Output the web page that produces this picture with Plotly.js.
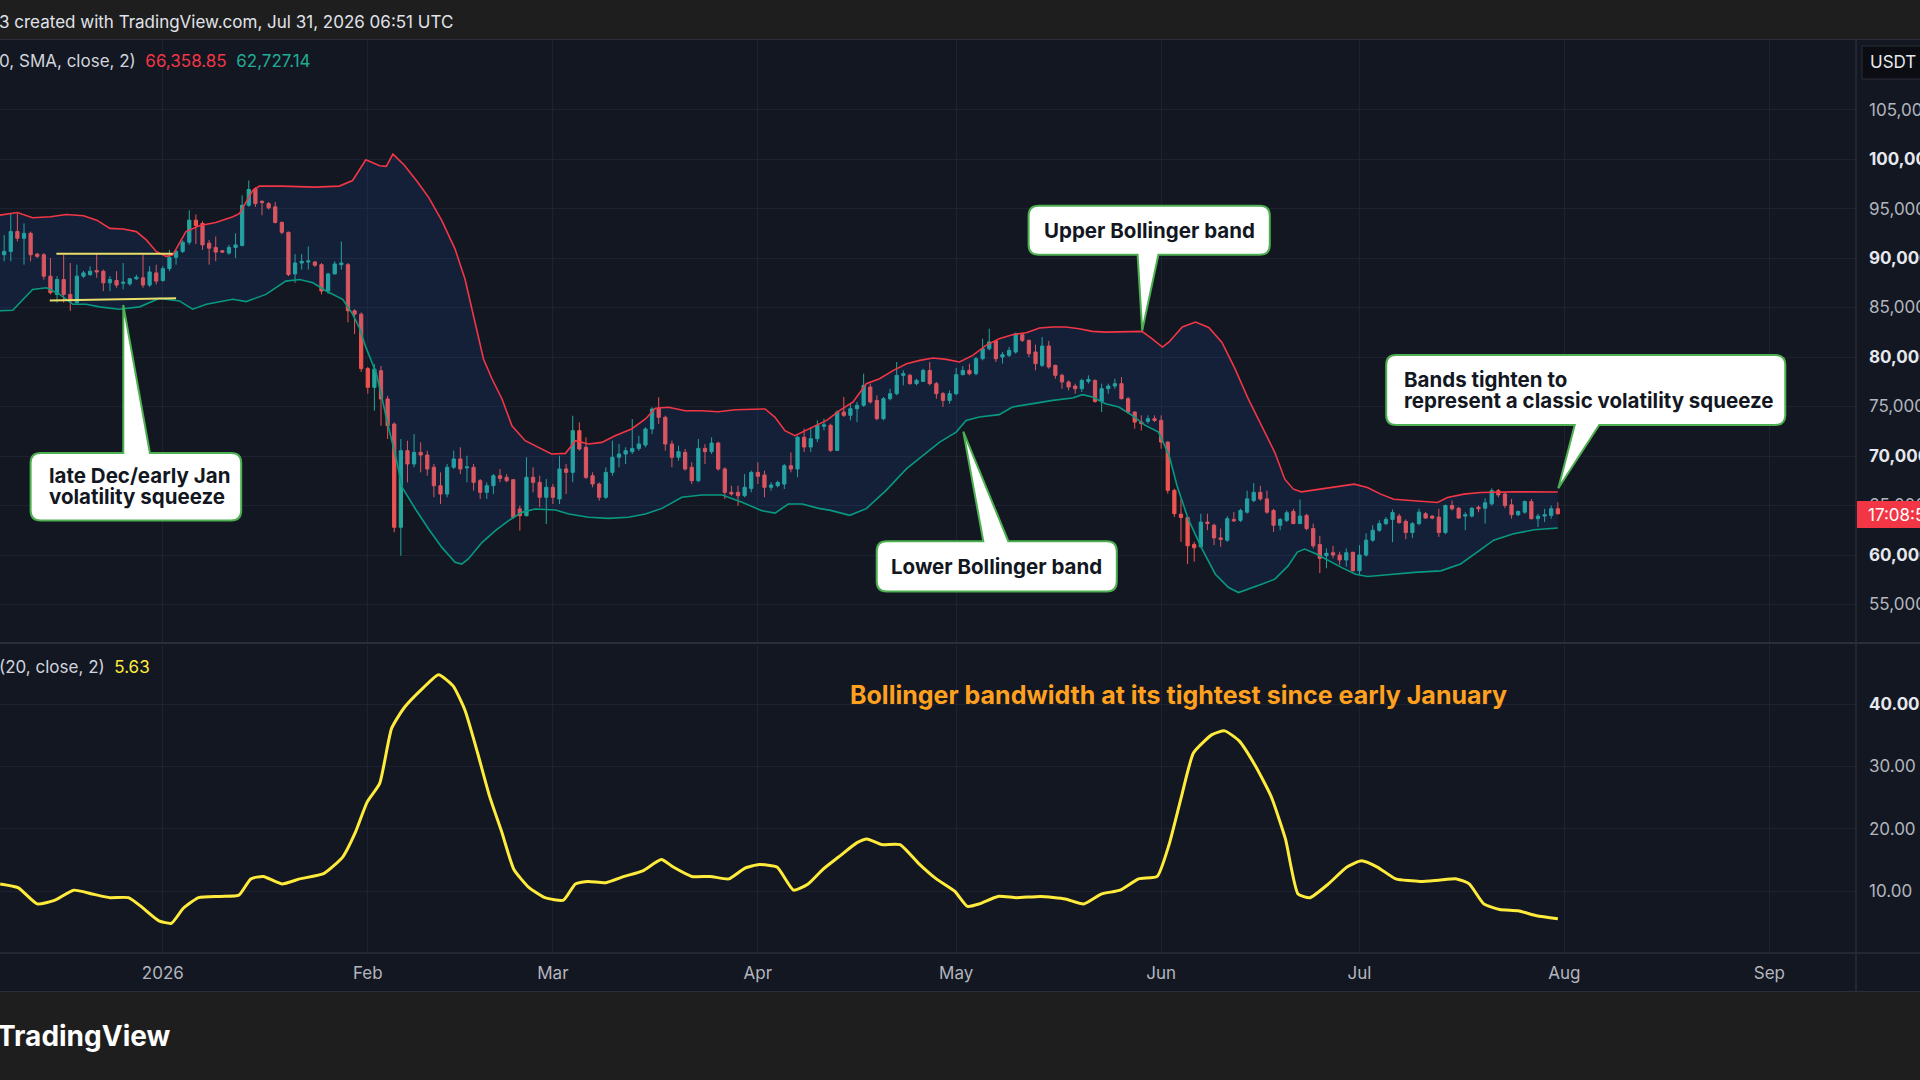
<!DOCTYPE html>
<html><head><meta charset="utf-8">
<script src="https://cdn.plot.ly/plotly-3.0.1.min.js"></script>
<style>html,body{margin:0;padding:0;background:#131722;overflow:hidden}#chart{width:1920px;height:1080px}</style>
</head><body><div id="chart"></div>
<script>
// ---------- DATA ----------
const candleStart = '2025-12-07';
const opens = [
91000,90330,90670,92670,92000,92500,90400,90330,88170,86330,
87830,86330,85500,88170,88330,88730,88670,87500,87730,87450,
87400,87900,88000,87270,88500,87730,88930,90070,90670,91600,
93830,93500,91500,91070,90730,90500,91070,91270,95330,97000,
95730,95500,95170,93600,92600,88400,89500,89600,89600,89330,
86670,88400,89330,89330,84670,84330,78830,76940,78620,75760,
73230,62800,70540,69190,70370,70100,68860,67000,66160,68860,
69700,68800,68860,67510,66330,67000,68010,67850,67610,64650,
63970,67850,67340,65830,66840,65660,68690,68350,72560,70880,
68010,67170,65830,68350,69870,70200,70440,70770,71110,72730,
74820,73910,71210,69870,70370,68860,67510,70770,70440,71310,
68690,66330,66330,65990,66730,68350,68080,66840,67000,67170,
69020,68690,71890,70910,71750,73000,73100,70570,74440,74110,
74780,75120,76970,75620,73770,75790,76300,78150,78150,77310,
77540,78650,77310,76300,75620,76300,78220,78650,78320,79830,
80840,81620,80000,80170,80510,82260,81680,80510,79160,81110,
79160,78150,77480,77070,76800,77540,77640,75520,76800,77070,
77310,75790,74440,73430,73500,73770,73600,71410,66530,64130,
63790,61070,60830,63330,63000,61730,61500,63600,63500,64330,
65500,66330,65670,64500,63000,63500,64400,63170,64000,62670,
61070,59930,60230,60000,59500,60270,58400,60000,61500,62500,
63170,63600,63930,63400,62270,63170,64170,63930,63830,62270,
65000,64730,63930,63930,64830,64730,65170,66500,66170,65070,
64070,64330,65400,63670,63930,64000,64670];
const highs = [
91900,92330,94500,94500,93500,92670,90500,90500,90000,88170,
90330,89500,89330,88700,89170,90500,88830,88170,88670,89500,
88000,88300,90330,89170,89330,89200,90830,90830,91800,94830,
94400,93700,91830,92170,90830,91330,92500,96330,97830,97170,
95830,95670,95670,93700,92670,90400,90400,91170,89700,89500,
88500,89670,91670,89500,84830,84500,79000,79290,79100,76090,
73400,71720,71550,72220,71380,70540,69190,68350,69190,70540,
70880,70030,69190,67680,67340,68180,68690,68180,67680,64980,
69870,68860,68010,67680,67170,70030,69190,74070,73400,71890,
68350,67340,68860,71550,71210,70880,73740,72050,72900,74920,
75930,74070,71550,71040,70710,69360,71720,71210,71890,71450,
68860,67000,67000,68180,68520,69360,68520,67340,67510,69190,
70370,72050,72760,72930,73600,73770,73270,74610,75960,75290,
75460,78320,77310,76130,75960,76800,79500,78650,78320,77810,
78820,79500,77480,76470,76630,78890,79090,79330,80000,81850,
82860,81680,80510,81010,82460,82360,81780,81250,82020,81620,
79230,78320,77640,77310,77810,78150,77740,77310,77310,77810,
77980,75960,74510,74110,74110,74110,74110,71480,66700,65640,
63960,61330,64170,64170,63170,62670,63930,64330,64670,66500,
67270,67000,66500,64670,63730,64500,64670,65600,64170,63170,
61930,60670,60930,60330,60670,60330,61000,62170,63000,63500,
63830,64600,64170,63600,63330,64670,64330,64000,64670,65100,
65500,64830,64330,64830,65000,65730,66730,66670,66330,65670,
64500,65500,65670,64170,64670,65000,65330];
const lows = [
89800,89670,89670,91670,89330,89670,90000,87830,86330,85500,
85500,84670,85330,88000,88170,88000,86670,86670,87000,86830,
87200,87800,87000,87070,87330,87600,88670,89330,90500,91330,
91400,90830,89330,89670,90500,90330,90000,91170,95170,95170,
94330,94900,93500,92400,88170,87500,88830,88830,89100,86330,
86400,88330,88830,83500,82330,78500,76300,74580,73060,71720,
62290,59930,67340,68860,68350,68010,65830,65150,65830,68690,
68180,67340,66500,65660,65660,66160,67340,67340,63640,62460,
63900,66330,64820,63130,65150,65150,66160,67340,70540,67680,
66840,65490,65660,68010,68860,69190,70200,70540,70880,72220,
73230,70540,68860,69530,68520,67170,67340,69190,70200,68520,
65660,65990,64980,65830,66330,67170,65830,66500,66840,66670,
68350,67850,70400,70400,71410,72590,70400,70570,73940,73600,
73430,74950,75290,73600,73600,75620,76130,77140,77210,77140,
77480,77140,75790,74950,75290,76130,78150,78150,78150,79660,
80670,79500,79330,80000,80340,81520,80000,78650,78990,78820,
77810,76800,76630,76300,76470,77310,75390,74440,76300,76800,
75720,74280,72760,72590,73270,73430,70740,66200,63840,61330,
59080,59330,60730,62500,61000,60830,61330,63330,63330,64170,
65330,65500,64170,62330,62500,63330,63170,63170,62500,60670,
58170,58670,59670,59000,58830,58330,58000,59830,61330,62330,
63000,61300,63170,61600,61730,63000,63670,63600,61830,62100,
64500,63670,62500,63800,64330,63170,65000,65830,64730,63670,
63930,64170,63600,62830,63330,63670,64070];
const closes = [
90300,90670,92670,92000,92500,90330,90170,88170,86500,87830,
86330,85670,88170,88500,88670,88600,87500,87830,87270,87550,
87900,88070,87270,88600,87670,88930,90070,90670,91600,93830,
93300,91330,91000,90600,90600,91070,91330,95330,96930,95500,
95600,95070,93600,92600,88330,89500,89670,89700,89270,86670,
88400,89400,89500,84670,84330,78830,76940,78790,75760,73060,
62800,70540,69190,70370,70100,68690,67000,66160,68860,69700,
68690,68900,67340,66330,67000,68010,67740,67510,63810,63970,
67850,67340,65830,66840,65830,68690,68350,72560,70710,67850,
67170,65830,68350,69870,70200,70540,70770,71210,72730,74750,
73910,71210,69870,70440,68690,67510,70770,70440,71310,68690,
66330,66160,65990,66840,68350,67950,66840,67070,67340,69020,
68690,71890,70910,71750,73100,73150,70570,74440,74110,74780,
75120,77140,75460,73770,75790,76300,78150,78320,77310,77640,
78650,77310,76300,75620,76300,78220,78650,78320,79830,80840,
81520,79830,80240,80670,82360,81680,80340,79330,81110,78990,
78150,77480,76970,76800,77640,77740,75520,76800,77070,77310,
75790,74440,73430,73270,73770,73600,71410,66530,64180,63790,
60930,60730,63330,63170,61730,61570,63670,63450,64500,65670,
66330,65670,64330,63000,63600,64270,63170,63930,62670,60930,
59670,60170,60000,59500,60230,58400,60000,61500,62500,63170,
63600,64300,63270,62270,63170,64330,63730,63730,62270,65000,
64670,63730,64070,64730,64670,65270,66500,66070,65000,64070,
64400,65400,63670,63930,64070,64670,64170];

// Bollinger bands (day offset from 2026-01-01, value)
const upperDay = [-24.7,-22,-19.7,-17,-14.6,-12,-10,-8,-6,-4,-2.5,-1,0.5,1.5,3.5,5.5,8,10.6,11.6,13.6,14.6,18,23,26.7,28.7,30.7,32.8,33.8,34.8,36.5,38.5,40.2,42.2,44.2,45.7,46.8,47.8,48.5,49.8,51.3,52.8,54.8,56.8,58.8,60.9,62.4,64.4,66.4,68.4,70.9,73,74.5,76.5,79,81.5,84,86.6,89.1,91.1,92.6,94.1,95.6,97.7,100.4,102.4,104.4,106.4,108.4,110.5,112.5,114.5,116.5,118.5,120.5,122.5,124.5,126.5,128.5,130.6,132.6,134.6,136.6,138.6,140.6,142.6,144.6,146.6,148.1,149.6,151.2,152.2,154.2,156.2,158.2,160.2,162.2,164.2,166.2,168.2,169.7,171,172.2,174.2,177.2,180.2,182.2,184.2,186.2,189.2,192.8,194.3,196.8,199.3,201.8,204.3,206.8,211];
const upperVal = [94330,94600,94070,94170,94400,94270,93830,93000,92930,92670,91830,90670,90170,90330,92670,93270,93600,94170,94500,96830,97270,97270,97170,97270,97830,99930,99330,99270,100500,99400,97700,96130,93770,90910,87880,84850,81820,79800,77780,75760,73060,71550,70880,70200,70270,71550,71210,71380,72050,72730,73740,74820,74920,74580,74580,74480,74680,74680,74750,73910,72560,72050,72730,73600,74610,75460,77310,77810,78650,79330,79660,79900,79760,79500,80170,81180,81850,82260,82460,82930,83030,83030,82860,82590,82520,82520,82590,82590,81850,81010,81520,83030,83540,82980,81470,78770,75740,73050,70350,67660,66650,66380,66580,66920,67160,66820,66150,65640,65470,65300,65810,66150,66310,66380,66380,66380,66360];
const lowerDay = [-24.7,-22.7,-19.7,-17.6,-15.6,-13.6,-11.6,-9.6,-6.6,-3.5,-0.5,2.5,4.5,6.6,10.6,12.6,15.6,18.6,20.7,22.7,24.7,27.2,28.7,29.7,30.7,32.3,34.2,35.2,36.2,38.2,40.2,42.2,44.2,45.2,46.2,48.3,50.3,52.3,54.3,56.3,59.4,61.4,64.4,67.4,70.4,73,75.5,78.5,81.5,84.6,87.6,90.6,92.6,94.6,96.7,99.2,101,103.9,106.4,109.4,112.5,115,117.5,120,121.5,123.5,126.5,128.5,131.6,134.6,137.6,139.1,140.6,142.6,144.6,146.6,148.6,150.6,152.2,153.4,155.1,157.2,159.2,161.2,162.7,164.2,166.2,168.2,170.2,171.6,172.7,174.4,176.4,178.4,180.4,182.2,185.3,189.3,193.3,196.3,198.8,201.3,204.3,207.4,211];
const lowerVal = [84670,84730,86830,87000,86330,85330,85330,85070,84830,85070,85930,85670,84830,85330,85830,85600,86330,87670,87830,87500,86670,85830,84330,83000,81000,78330,72730,70030,66840,64650,62630,60770,59260,59090,59600,61280,62460,63470,64310,64650,64550,64140,63810,63700,63810,64140,64710,65830,66060,66060,65320,64480,64240,65150,65150,64710,64510,64010,64680,66530,68720,70070,71410,72420,73600,73940,74180,74950,75290,75620,75860,76200,75960,75290,74950,74110,73100,72420,70070,67000,63620,60590,58060,56720,56210,56550,57050,57560,58900,60300,60600,60130,59400,58700,58050,57830,58000,58250,58400,59100,60300,61500,62150,62550,62730];

// Bollinger bandwidth
const bbwDay = [-24.6,-21.9,-19,-16.3,-13.5,-10.7,-8,-5.2,-3.3,-0.6,1.3,3.1,5.4,8.7,11.5,13.3,15.2,18,20.7,24.4,27.2,29.1,30.9,32.8,34.6,36.5,39.3,41.7,43.9,45.7,47.6,49.4,51.3,53.1,55.4,57.8,60.6,62.4,64.3,67,69.8,72.6,75.4,77.2,80,82.8,85.6,88,90.2,92.9,95.4,97.6,99.8,102.2,105,106.5,108.7,111.5,114.3,117,119.8,121.7,123.5,126.3,129.1,132.8,136.5,139.3,142,144.8,147.6,150.4,152.2,154.1,155.9,158.7,160.6,162.8,165.2,167.6,169.8,171.7,173.5,176.3,179.1,181.3,183.7,186.5,190.2,193,195.7,197.6,199.8,202.2,205,207.8,211];
const bbwVal = [11.2,10.6,8.0,8.6,10.2,9.6,9.0,9.0,7.6,5.3,4.9,7.3,9.0,9.2,9.4,12.0,12.4,11.2,12.0,12.9,15.5,19.4,24.3,27.3,36.1,39.4,42.5,44.7,42.9,39.0,32.2,25.3,19.4,13.5,10.6,9.0,8.6,11.2,11.6,11.4,12.4,13.3,15.1,13.9,12.4,12.4,12.0,13.7,14.3,13.9,10.2,11.2,13.5,15.5,17.8,18.4,17.5,17.5,14.5,12.0,10.0,7.6,8.0,9.2,9.0,9.2,8.8,8.0,9.6,10.2,12.0,12.4,17.5,25.3,32.2,35.1,35.7,34.1,30.2,25.3,18.4,9.6,9.0,11.2,13.9,14.9,13.9,12.0,11.6,11.8,12.0,11.2,8.0,7.1,6.9,6.1,5.63];

// drawn squeeze lines
const sqTopDay = [-16.1, 1.5], sqTopVal = [90430, 90430];
const sqBotDay = [-17.1, 2.0], sqBotVal = [85700, 85930];

// axis ticks
const priceTicks = [55000,60000,65000,70000,75000,80000,85000,90000,95000,100000,105000];
const bbwTicks = [10,20,30,40];
const monthTicks = ['2026-01-01','2026-02-01','2026-03-01','2026-04-01','2026-05-01','2026-06-01','2026-07-01','2026-08-01','2026-09-01'];
const monthLabels = ['2026','Feb','Mar','Apr','May','Jun','Jul','Aug','Sep'];

// ---------- BUILD ----------
const DAY = 864e5;
const t0 = Date.parse(candleStart + 'T00:00:00Z');
const jan1 = Date.UTC(2026,0,1);
const iso = ms => new Date(ms).toISOString().replace('T',' ').slice(0,19);
const dates = opens.map((_,i) => iso(t0 + i*DAY).slice(0,10));
const dd = arr => arr.map(d => iso(jan1 + d*DAY));

const FONT = 'Inter, "Noto Sans", Roboto, sans-serif';
const W = 1856, H = 914, T = 39;
const px = X => X / W, py = Y => (T + H - Y) / H;

const fmt = v => v.toLocaleString('en-US');
const priceText = priceTicks.map(v => v % 10000 === 0 ? '<span style="color:#e6e8ee"><b>' + fmt(v) + '</b></span>' : fmt(v));
const bbwText = bbwTicks.map(v => v === 40 ? '<span style="color:#e6e8ee"><b>40.00</b></span>' : v.toFixed(2));

const traces = [
  {type:'scatter', mode:'lines', x:dd(lowerDay), y:lowerVal, line:{color:'#089981', width:1.6}, xaxis:'x', yaxis:'y', hoverinfo:'skip'},
  {type:'scatter', mode:'lines', x:dd(upperDay), y:upperVal, line:{color:'#f23645', width:1.6}, fill:'tonexty', fillcolor:'rgba(33,120,243,0.10)', xaxis:'x', yaxis:'y', hoverinfo:'skip'},
  {type:'candlestick', x:dates, open:opens, high:highs, low:lows, close:closes, xaxis:'x', yaxis:'y',
   increasing:{line:{color:'#26a69a', width:1}, fillcolor:'#26a69a'},
   decreasing:{line:{color:'#ef5350', width:1}, fillcolor:'#ef5350'}, whiskerwidth:0, hoverinfo:'skip'},
  {type:'scatter', mode:'lines', x:dd(sqTopDay), y:sqTopVal, line:{color:'#e9df6a', width:2}, xaxis:'x', yaxis:'y', hoverinfo:'skip'},
  {type:'scatter', mode:'lines', x:dd(sqBotDay), y:sqBotVal, line:{color:'#e9df6a', width:2}, xaxis:'x', yaxis:'y', hoverinfo:'skip'},
  {type:'scatter', mode:'lines', x:dd(bbwDay), y:bbwVal, line:{color:'#ffeb3b', width:3, shape:'spline', smoothing:0.5}, xaxis:'x', yaxis:'y2', hoverinfo:'skip'}
];

// callout path (pixel coords -> paper)
function callout(x0,y0,x1,y1,side,b0,b1,tx,ty){
  const r = 10;
  const P = (X,Y) => px(X).toFixed(5) + ',' + py(Y).toFixed(5);
  let s = 'M' + P(x0+r,y0);
  if (side === 'top') s += ' L' + P(b0,y0) + ' L' + P(tx,ty) + ' L' + P(b1,y0);
  s += ' L' + P(x1-r,y0) + ' Q' + P(x1,y0) + ' ' + P(x1,y0+r);
  s += ' L' + P(x1,y1-r) + ' Q' + P(x1,y1) + ' ' + P(x1-r,y1);
  if (side === 'bottom') s += ' L' + P(b1,y1) + ' L' + P(tx,ty) + ' L' + P(b0,y1);
  s += ' L' + P(x0+r,y1) + ' Q' + P(x0,y1) + ' ' + P(x0,y1-r);
  s += ' L' + P(x0,y0+r) + ' Q' + P(x0,y0) + ' ' + P(x0+r,y0) + ' Z';
  return {type:'path', xref:'paper', yref:'paper', path:s, fillcolor:'#ffffff', line:{color:'#4caf50', width:2}, layer:'above'};
}
const rect = (x0,y0,x1,y1,fill,layer,lc) => ({type:'rect', xref:'paper', yref:'paper', x0:px(x0), x1:px(x1), y0:py(y1), y1:py(y0), fillcolor:fill, line:{width:lc?1:0, color:lc||fill}, layer:layer||'below'});
const hline = (Y,x0,x1,c,w) => ({type:'line', xref:'paper', yref:'paper', x0:px(x0), x1:px(x1), y0:py(Y), y1:py(Y), line:{color:c, width:w}, layer:'above'});
const vline = (X,y0,y1,c,w) => ({type:'line', xref:'paper', yref:'paper', x0:px(X), x1:px(X), y0:py(y0), y1:py(y1), line:{color:c, width:w}, layer:'above'});

const shapes = [
  rect(-10,-10,1930,39,'#1e1e1e','below'),
  rect(-10,992,1930,1090,'#1e1e1e','below'),
  hline(39.5,-10,1930,'#2a2e39',1),
  hline(643,-10,1930,'#2a2e39',2),
  hline(953,-10,1930,'#2a2e39',1.5),
  hline(991.5,-10,1930,'#2a2e39',1),
  vline(1856,39,992,'#2a2e39',1.5),
  rect(1862,46,1924,79,'#0c0d12','above','#2a2e39'),
  rect(1857,501,1924,528,'#f23645','above'),
  callout(30.6,453,241.2,520.4,'top',123.3,149.9,123.3,304.9),
  callout(1028.6,205.7,1269.8,254.7,'bottom',1137.6,1158.4,1142.2,330.6),
  callout(876.7,541.2,1116.8,591.4,'top',983.3,1008.3,963.3,431.6),
  callout(1386.2,355.1,1785.3,424.9,'bottom',1574.7,1599.2,1558.3,488.3)
];

const ann = (X,Y,text,opts) => Object.assign({xref:'paper', yref:'paper', x:px(X), y:py(Y), text:text, showarrow:false, xanchor:'left', yanchor:'middle', font:{family:FONT, size:17, color:'#d1d4dc'}}, opts||{});
const calloutFont = {family:FONT, size:20.5, color:'#131722'};
const annotations = [
  ann(-3,22,'3 created with TradingView.com, Jul 31, 2026 06:51 UTC',{font:{family:FONT,size:17,color:'#e0e3eb'}}),
  ann(-3,61,'0, SMA, close, 2)&nbsp;&nbsp;<span style="color:#f23645">66,358.85</span>&nbsp;&nbsp;<span style="color:#22ab94">62,727.14</span>'),
  ann(-3,667,'(20, close, 2)&nbsp;&nbsp;<span style="color:#ffeb3b">5.63</span>'),
  ann(1868,62.5,'USDT',{font:{family:FONT,size:17,color:'#e6e8ee'}}),
  ann(1866,514.5,'17:08:52',{font:{family:FONT,size:17,color:'#ffffff'}}),
  ann(46.5,475.5,'<b>late Dec/early Jan</b>',{font:calloutFont}),
  ann(46.5,496.5,'<b>volatility squeeze</b>',{font:calloutFont}),
  ann(1149.2,230.2,'<b>Upper Bollinger band</b>',{font:calloutFont, xanchor:'center'}),
  ann(996.8,566.3,'<b>Lower Bollinger band</b>',{font:calloutFont, xanchor:'center'}),
  ann(1402,379.8,'<b>Bands tighten to</b>',{font:calloutFont}),
  ann(1402,400.6,'<b>represent a classic volatility squeeze</b>',{font:calloutFont}),
  ann(1178,694.5,'<b>Bollinger bandwidth at its tightest since early January</b>',{font:{family:FONT,size:25,color:'#ffa11f'}, xanchor:'center'}),
  ann(-5,1036,'<b>TradingView</b>',{font:{family:FONT,size:28,color:'#ffffff'}})
];

const axisFont = {family:FONT, size:17, color:'#b2b5be'};
const layout = {
  width:1920, height:1080,
  margin:{l:0, r:64, t:39, b:127, pad:0},
  paper_bgcolor:'#131722', plot_bgcolor:'#131722',
  showlegend:false, hovermode:false,
  font:{family:FONT, color:'#b2b5be'},
  xaxis:{type:'date', range:[iso(jan1 - 24.63*DAY), iso(jan1 + 256.1*DAY)], anchor:'y2',
         tickvals:monthTicks, ticktext:monthLabels, tickfont:axisFont, showgrid:true, gridcolor:'#1e2230', gridwidth:1,
         zeroline:false, showline:false, ticks:'', ticklabelstandoff:8, rangeslider:{visible:false}, fixedrange:true},
  yaxis:{domain:[0.3392,1], range:[51114,112129], side:'right', anchor:'x', tickvals:priceTicks, ticktext:priceText,
         tickfont:axisFont, showgrid:true, gridcolor:'#1e2230', zeroline:false, showline:false, ticks:'', ticklabelstandoff:12, fixedrange:true},
  yaxis2:{domain:[0,0.337], range:[0.14,49.45], side:'right', anchor:'x', tickvals:bbwTicks, ticktext:bbwText,
          tickfont:axisFont, showgrid:true, gridcolor:'#1e2230', zeroline:false, showline:false, ticks:'', ticklabelstandoff:12, fixedrange:true},
  shapes:shapes, annotations:annotations
};

Plotly.newPlot('chart', traces, layout, {displayModeBar:false, staticPlot:true});
</script></body></html>
